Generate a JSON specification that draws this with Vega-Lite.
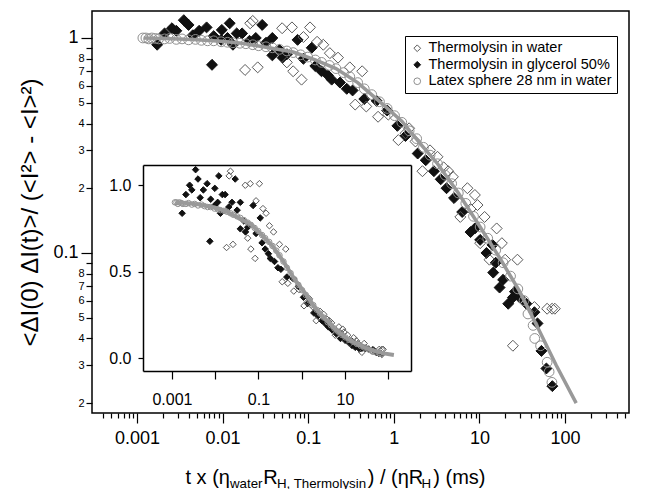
{
  "$schema": "https://vega.github.io/schema/vega-lite/v6.json",
  "width": 537,
  "height": 402,
  "autosize": "none",
  "padding": {"left": 92, "top": 11, "right": 21, "bottom": 76},
  "background": "white",
  "config": {
    "view": {"stroke": "black", "strokeWidth": 1.5},
    "font": "Liberation Sans",
    "axis": {"domain": false, "domainColor": "black", "domainWidth": 1.5, "grid": false, "tickColor": "black", "tickWidth": 1.2, "labelColor": "black", "titleColor": "black", "labelFont": "Liberation Sans", "titleFont": "Liberation Sans", "titleFontWeight": "normal", "labelOverlap": false, "labelFlush": false, "labelBound": false},
    "legend": {"labelFont": "Liberation Sans", "labelFontSize": 14.5, "labelColor": "black", "strokeColor": "black", "fillColor": "white", "padding": 5, "rowPadding": 1.5, "symbolSize": 45, "symbolStrokeWidth": 1, "labelLimit": 400}
  },
  "datasets": {
    "pts": [
      {"s": "Thermolysin in glycerol 50%", "x": 0.00172, "y": 0.93},
      {"s": "Thermolysin in glycerol 50%", "x": 0.0021, "y": 1.05},
      {"s": "Thermolysin in glycerol 50%", "x": 0.00256, "y": 1.11},
      {"s": "Thermolysin in glycerol 50%", "x": 0.00288, "y": 1.08},
      {"s": "Thermolysin in glycerol 50%", "x": 0.00352, "y": 1.21},
      {"s": "Thermolysin in glycerol 50%", "x": 0.004, "y": 1.15},
      {"s": "Thermolysin in glycerol 50%", "x": 0.00449, "y": 1.03},
      {"s": "Thermolysin in glycerol 50%", "x": 0.00532, "y": 1.08},
      {"s": "Thermolysin in glycerol 50%", "x": 0.0065, "y": 1.12},
      {"s": "Thermolysin in glycerol 50%", "x": 0.00752, "y": 0.75},
      {"s": "Thermolysin in glycerol 50%", "x": 0.00787, "y": 1.02},
      {"s": "Thermolysin in glycerol 50%", "x": 0.00962, "y": 0.98},
      {"s": "Thermolysin in glycerol 50%", "x": 0.00979, "y": 1.09},
      {"s": "Thermolysin in glycerol 50%", "x": 0.0114, "y": 1.0},
      {"s": "Thermolysin in glycerol 50%", "x": 0.0121, "y": 1.17},
      {"s": "Thermolysin in glycerol 50%", "x": 0.0132, "y": 0.93},
      {"s": "Thermolysin in glycerol 50%", "x": 0.0146, "y": 1.05},
      {"s": "Thermolysin in glycerol 50%", "x": 0.0169, "y": 1.05},
      {"s": "Thermolysin in glycerol 50%", "x": 0.0206, "y": 0.97},
      {"s": "Thermolysin in glycerol 50%", "x": 0.0244, "y": 1.0},
      {"s": "Thermolysin in glycerol 50%", "x": 0.029, "y": 1.15},
      {"s": "Thermolysin in glycerol 50%", "x": 0.0321, "y": 0.95},
      {"s": "Thermolysin in glycerol 50%", "x": 0.0381, "y": 1.0},
      {"s": "Thermolysin in glycerol 50%", "x": 0.0381, "y": 0.83},
      {"s": "Thermolysin in glycerol 50%", "x": 0.0461, "y": 0.88},
      {"s": "Thermolysin in glycerol 50%", "x": 0.0502, "y": 0.81},
      {"s": "Thermolysin in glycerol 50%", "x": 0.0563, "y": 0.84},
      {"s": "Thermolysin in glycerol 50%", "x": 0.0751, "y": 0.98},
      {"s": "Thermolysin in glycerol 50%", "x": 0.0879, "y": 0.8},
      {"s": "Thermolysin in glycerol 50%", "x": 0.11, "y": 0.9},
      {"s": "Thermolysin in glycerol 50%", "x": 0.121, "y": 0.74},
      {"s": "Thermolysin in glycerol 50%", "x": 0.143, "y": 0.7},
      {"s": "Thermolysin in glycerol 50%", "x": 0.17, "y": 0.67},
      {"s": "Thermolysin in glycerol 50%", "x": 0.188, "y": 0.64},
      {"s": "Thermolysin in glycerol 50%", "x": 0.235, "y": 0.62},
      {"s": "Thermolysin in glycerol 50%", "x": 0.282, "y": 0.58},
      {"s": "Thermolysin in glycerol 50%", "x": 0.33, "y": 0.57},
      {"s": "Thermolysin in glycerol 50%", "x": 0.452, "y": 0.52},
      {"s": "Thermolysin in glycerol 50%", "x": 0.629, "y": 0.51},
      {"s": "Thermolysin in glycerol 50%", "x": 0.836, "y": 0.46},
      {"s": "Thermolysin in glycerol 50%", "x": 1.1, "y": 0.39},
      {"s": "Thermolysin in glycerol 50%", "x": 1.37, "y": 0.35},
      {"s": "Thermolysin in glycerol 50%", "x": 1.9, "y": 0.29},
      {"s": "Thermolysin in glycerol 50%", "x": 2.36, "y": 0.27},
      {"s": "Thermolysin in glycerol 50%", "x": 2.94, "y": 0.24},
      {"s": "Thermolysin in glycerol 50%", "x": 3.53, "y": 0.22},
      {"s": "Thermolysin in glycerol 50%", "x": 4.13, "y": 0.2},
      {"s": "Thermolysin in glycerol 50%", "x": 5.05, "y": 0.18},
      {"s": "Thermolysin in glycerol 50%", "x": 6.29, "y": 0.155},
      {"s": "Thermolysin in glycerol 50%", "x": 7.88, "y": 0.125},
      {"s": "Thermolysin in glycerol 50%", "x": 8.85, "y": 0.13},
      {"s": "Thermolysin in glycerol 50%", "x": 10.2, "y": 0.115},
      {"s": "Thermolysin in glycerol 50%", "x": 12.1, "y": 0.1},
      {"s": "Thermolysin in glycerol 50%", "x": 14.2, "y": 0.109},
      {"s": "Thermolysin in glycerol 50%", "x": 14.5, "y": 0.081},
      {"s": "Thermolysin in glycerol 50%", "x": 15.5, "y": 0.09},
      {"s": "Thermolysin in glycerol 50%", "x": 17.2, "y": 0.069},
      {"s": "Thermolysin in glycerol 50%", "x": 18.9, "y": 0.075},
      {"s": "Thermolysin in glycerol 50%", "x": 21.7, "y": 0.058},
      {"s": "Thermolysin in glycerol 50%", "x": 24.6, "y": 0.062},
      {"s": "Thermolysin in glycerol 50%", "x": 26.0, "y": 0.066},
      {"s": "Thermolysin in glycerol 50%", "x": 29.6, "y": 0.062},
      {"s": "Thermolysin in glycerol 50%", "x": 35.4, "y": 0.058},
      {"s": "Thermolysin in glycerol 50%", "x": 43.9, "y": 0.053},
      {"s": "Thermolysin in glycerol 50%", "x": 47.7, "y": 0.047},
      {"s": "Thermolysin in glycerol 50%", "x": 53.0, "y": 0.035},
      {"s": "Thermolysin in glycerol 50%", "x": 60.6, "y": 0.029},
      {"s": "Thermolysin in glycerol 50%", "x": 71.1, "y": 0.024},
      {"s": "Thermolysin in water", "x": 0.0183, "y": 0.71},
      {"s": "Thermolysin in water", "x": 0.0257, "y": 0.73},
      {"s": "Thermolysin in water", "x": 0.021, "y": 1.17},
      {"s": "Thermolysin in water", "x": 0.0225, "y": 1.2},
      {"s": "Thermolysin in water", "x": 0.0496, "y": 1.11},
      {"s": "Thermolysin in water", "x": 0.0563, "y": 0.77},
      {"s": "Thermolysin in water", "x": 0.0646, "y": 1.12},
      {"s": "Thermolysin in water", "x": 0.0667, "y": 0.7},
      {"s": "Thermolysin in water", "x": 0.0836, "y": 0.64},
      {"s": "Thermolysin in water", "x": 0.0879, "y": 1.01},
      {"s": "Thermolysin in water", "x": 0.105, "y": 1.12},
      {"s": "Thermolysin in water", "x": 0.127, "y": 0.96},
      {"s": "Thermolysin in water", "x": 0.15, "y": 0.93},
      {"s": "Thermolysin in water", "x": 0.179, "y": 0.85},
      {"s": "Thermolysin in water", "x": 0.223, "y": 0.81},
      {"s": "Thermolysin in water", "x": 0.306, "y": 0.73},
      {"s": "Thermolysin in water", "x": 0.354, "y": 0.49},
      {"s": "Thermolysin in water", "x": 0.427, "y": 0.7},
      {"s": "Thermolysin in water", "x": 0.477, "y": 0.48},
      {"s": "Thermolysin in water", "x": 0.655, "y": 0.43},
      {"s": "Thermolysin in water", "x": 0.862, "y": 0.44},
      {"s": "Thermolysin in water", "x": 1.13, "y": 0.335},
      {"s": "Thermolysin in water", "x": 1.37, "y": 0.36},
      {"s": "Thermolysin in water", "x": 1.51, "y": 0.38},
      {"s": "Thermolysin in water", "x": 1.79, "y": 0.33},
      {"s": "Thermolysin in water", "x": 2.16, "y": 0.24},
      {"s": "Thermolysin in water", "x": 2.65, "y": 0.3},
      {"s": "Thermolysin in water", "x": 3.24, "y": 0.28},
      {"s": "Thermolysin in water", "x": 3.83, "y": 0.25},
      {"s": "Thermolysin in water", "x": 4.32, "y": 0.24},
      {"s": "Thermolysin in water", "x": 4.9, "y": 0.226},
      {"s": "Thermolysin in water", "x": 5.98, "y": 0.147},
      {"s": "Thermolysin in water", "x": 7.24, "y": 0.2},
      {"s": "Thermolysin in water", "x": 7.88, "y": 0.16},
      {"s": "Thermolysin in water", "x": 8.85, "y": 0.186},
      {"s": "Thermolysin in water", "x": 9.5, "y": 0.167},
      {"s": "Thermolysin in water", "x": 10.2, "y": 0.111},
      {"s": "Thermolysin in water", "x": 11.5, "y": 0.147},
      {"s": "Thermolysin in water", "x": 13.1, "y": 0.093},
      {"s": "Thermolysin in water", "x": 15.9, "y": 0.13},
      {"s": "Thermolysin in water", "x": 18.3, "y": 0.111},
      {"s": "Thermolysin in water", "x": 20.0, "y": 0.093},
      {"s": "Thermolysin in water", "x": 24.6, "y": 0.037},
      {"s": "Thermolysin in water", "x": 27.8, "y": 0.093},
      {"s": "Thermolysin in water", "x": 43.9, "y": 0.056},
      {"s": "Thermolysin in water", "x": 61.8, "y": 0.055},
      {"s": "Thermolysin in water", "x": 70.7, "y": 0.055},
      {"s": "Thermolysin in water", "x": 76.1, "y": 0.055},
      {"s": "Latex sphere 28 nm in water", "x": 0.00117, "y": 1.0},
      {"s": "Latex sphere 28 nm in water", "x": 0.00127, "y": 1.0},
      {"s": "Latex sphere 28 nm in water", "x": 0.00137, "y": 0.99},
      {"s": "Latex sphere 28 nm in water", "x": 0.00149, "y": 1.0},
      {"s": "Latex sphere 28 nm in water", "x": 0.00164, "y": 0.995},
      {"s": "Latex sphere 28 nm in water", "x": 0.00179, "y": 0.99},
      {"s": "Latex sphere 28 nm in water", "x": 0.0021, "y": 0.99},
      {"s": "Latex sphere 28 nm in water", "x": 0.00241, "y": 0.995},
      {"s": "Latex sphere 28 nm in water", "x": 0.00288, "y": 0.985},
      {"s": "Latex sphere 28 nm in water", "x": 0.00336, "y": 0.99},
      {"s": "Latex sphere 28 nm in water", "x": 0.004, "y": 0.98},
      {"s": "Latex sphere 28 nm in water", "x": 0.00482, "y": 0.985},
      {"s": "Latex sphere 28 nm in water", "x": 0.00566, "y": 0.975},
      {"s": "Latex sphere 28 nm in water", "x": 0.00667, "y": 0.97},
      {"s": "Latex sphere 28 nm in water", "x": 0.00787, "y": 0.97},
      {"s": "Latex sphere 28 nm in water", "x": 0.00962, "y": 0.96},
      {"s": "Latex sphere 28 nm in water", "x": 0.0114, "y": 0.955},
      {"s": "Latex sphere 28 nm in water", "x": 0.0132, "y": 0.95},
      {"s": "Latex sphere 28 nm in water", "x": 0.0159, "y": 0.945},
      {"s": "Latex sphere 28 nm in water", "x": 0.0187, "y": 0.94},
      {"s": "Latex sphere 28 nm in water", "x": 0.0225, "y": 0.93},
      {"s": "Latex sphere 28 nm in water", "x": 0.0263, "y": 0.92},
      {"s": "Latex sphere 28 nm in water", "x": 0.0321, "y": 0.91},
      {"s": "Latex sphere 28 nm in water", "x": 0.0381, "y": 0.9},
      {"s": "Latex sphere 28 nm in water", "x": 0.0461, "y": 0.885},
      {"s": "Latex sphere 28 nm in water", "x": 0.0563, "y": 0.87},
      {"s": "Latex sphere 28 nm in water", "x": 0.0667, "y": 0.855},
      {"s": "Latex sphere 28 nm in water", "x": 0.0815, "y": 0.835},
      {"s": "Latex sphere 28 nm in water", "x": 0.0987, "y": 0.815},
      {"s": "Latex sphere 28 nm in water", "x": 0.121, "y": 0.79},
      {"s": "Latex sphere 28 nm in water", "x": 0.143, "y": 0.77},
      {"s": "Latex sphere 28 nm in water", "x": 0.177, "y": 0.745},
      {"s": "Latex sphere 28 nm in water", "x": 0.211, "y": 0.72},
      {"s": "Latex sphere 28 nm in water", "x": 0.258, "y": 0.69},
      {"s": "Latex sphere 28 nm in water", "x": 0.306, "y": 0.66},
      {"s": "Latex sphere 28 nm in water", "x": 0.378, "y": 0.62},
      {"s": "Latex sphere 28 nm in water", "x": 0.452, "y": 0.58},
      {"s": "Latex sphere 28 nm in water", "x": 0.552, "y": 0.545},
      {"s": "Latex sphere 28 nm in water", "x": 0.68, "y": 0.505},
      {"s": "Latex sphere 28 nm in water", "x": 0.836, "y": 0.47},
      {"s": "Latex sphere 28 nm in water", "x": 1.02, "y": 0.435},
      {"s": "Latex sphere 28 nm in water", "x": 1.24, "y": 0.405},
      {"s": "Latex sphere 28 nm in water", "x": 1.51, "y": 0.37},
      {"s": "Latex sphere 28 nm in water", "x": 1.85, "y": 0.34},
      {"s": "Latex sphere 28 nm in water", "x": 2.22, "y": 0.31},
      {"s": "Latex sphere 28 nm in water", "x": 2.65, "y": 0.285},
      {"s": "Latex sphere 28 nm in water", "x": 3.24, "y": 0.26},
      {"s": "Latex sphere 28 nm in water", "x": 3.98, "y": 0.23},
      {"s": "Latex sphere 28 nm in water", "x": 4.74, "y": 0.21},
      {"s": "Latex sphere 28 nm in water", "x": 5.67, "y": 0.19},
      {"s": "Latex sphere 28 nm in water", "x": 6.93, "y": 0.17},
      {"s": "Latex sphere 28 nm in water", "x": 8.53, "y": 0.148},
      {"s": "Latex sphere 28 nm in water", "x": 10.2, "y": 0.132},
      {"s": "Latex sphere 28 nm in water", "x": 12.5, "y": 0.117},
      {"s": "Latex sphere 28 nm in water", "x": 15.5, "y": 0.103},
      {"s": "Latex sphere 28 nm in water", "x": 18.9, "y": 0.09},
      {"s": "Latex sphere 28 nm in water", "x": 23.1, "y": 0.078},
      {"s": "Latex sphere 28 nm in water", "x": 28.1, "y": 0.068},
      {"s": "Latex sphere 28 nm in water", "x": 33.2, "y": 0.06},
      {"s": "Latex sphere 28 nm in water", "x": 36.9, "y": 0.052},
      {"s": "Latex sphere 28 nm in water", "x": 42.4, "y": 0.046},
      {"s": "Latex sphere 28 nm in water", "x": 44.3, "y": 0.04},
      {"s": "Latex sphere 28 nm in water", "x": 51.8, "y": 0.037},
      {"s": "Latex sphere 28 nm in water", "x": 61.8, "y": 0.031},
      {"s": "Latex sphere 28 nm in water", "x": 65.2, "y": 0.028},
      {"s": "Latex sphere 28 nm in water", "x": 70.3, "y": 0.025}
    ],
    "fit": [
      {"x": 0.0012, "y": 1.0},
      {"x": 0.0021, "y": 0.995},
      {"x": 0.00449, "y": 0.985},
      {"x": 0.00962, "y": 0.965},
      {"x": 0.0169, "y": 0.945},
      {"x": 0.0321, "y": 0.905},
      {"x": 0.0667, "y": 0.86},
      {"x": 0.121, "y": 0.79},
      {"x": 0.211, "y": 0.72},
      {"x": 0.378, "y": 0.62},
      {"x": 0.706, "y": 0.5},
      {"x": 1.24, "y": 0.41},
      {"x": 2.07, "y": 0.32},
      {"x": 3.24, "y": 0.26},
      {"x": 5.67, "y": 0.19},
      {"x": 10.2, "y": 0.132},
      {"x": 17.2, "y": 0.095},
      {"x": 29.6, "y": 0.066},
      {"x": 48, "y": 0.045},
      {"x": 78.9, "y": 0.03},
      {"x": 135, "y": 0.02}
    ],
    "ins": [
      {"s": "Thermolysin in glycerol 50%", "x": 0.00172, "y": 0.837},
      {"s": "Thermolysin in glycerol 50%", "x": 0.0021, "y": 0.945},
      {"s": "Thermolysin in glycerol 50%", "x": 0.00256, "y": 0.999},
      {"s": "Thermolysin in glycerol 50%", "x": 0.00288, "y": 0.972},
      {"s": "Thermolysin in glycerol 50%", "x": 0.00352, "y": 1.089},
      {"s": "Thermolysin in glycerol 50%", "x": 0.004, "y": 1.035},
      {"s": "Thermolysin in glycerol 50%", "x": 0.00449, "y": 0.927},
      {"s": "Thermolysin in glycerol 50%", "x": 0.00532, "y": 0.972},
      {"s": "Thermolysin in glycerol 50%", "x": 0.0065, "y": 1.008},
      {"s": "Thermolysin in glycerol 50%", "x": 0.00752, "y": 0.675},
      {"s": "Thermolysin in glycerol 50%", "x": 0.00787, "y": 0.918},
      {"s": "Thermolysin in glycerol 50%", "x": 0.00962, "y": 0.882},
      {"s": "Thermolysin in glycerol 50%", "x": 0.00979, "y": 0.981},
      {"s": "Thermolysin in glycerol 50%", "x": 0.0114, "y": 0.9},
      {"s": "Thermolysin in glycerol 50%", "x": 0.0121, "y": 1.053},
      {"s": "Thermolysin in glycerol 50%", "x": 0.0132, "y": 0.837},
      {"s": "Thermolysin in glycerol 50%", "x": 0.0146, "y": 0.945},
      {"s": "Thermolysin in glycerol 50%", "x": 0.0169, "y": 0.945},
      {"s": "Thermolysin in glycerol 50%", "x": 0.0206, "y": 0.873},
      {"s": "Thermolysin in glycerol 50%", "x": 0.0244, "y": 0.9},
      {"s": "Thermolysin in glycerol 50%", "x": 0.029, "y": 1.035},
      {"s": "Thermolysin in glycerol 50%", "x": 0.0321, "y": 0.855},
      {"s": "Thermolysin in glycerol 50%", "x": 0.0381, "y": 0.9},
      {"s": "Thermolysin in glycerol 50%", "x": 0.0381, "y": 0.747},
      {"s": "Thermolysin in glycerol 50%", "x": 0.0461, "y": 0.792},
      {"s": "Thermolysin in glycerol 50%", "x": 0.0502, "y": 0.729},
      {"s": "Thermolysin in glycerol 50%", "x": 0.0563, "y": 0.756},
      {"s": "Thermolysin in glycerol 50%", "x": 0.0751, "y": 0.882},
      {"s": "Thermolysin in glycerol 50%", "x": 0.0879, "y": 0.72},
      {"s": "Thermolysin in glycerol 50%", "x": 0.11, "y": 0.81},
      {"s": "Thermolysin in glycerol 50%", "x": 0.121, "y": 0.666},
      {"s": "Thermolysin in glycerol 50%", "x": 0.143, "y": 0.63},
      {"s": "Thermolysin in glycerol 50%", "x": 0.17, "y": 0.603},
      {"s": "Thermolysin in glycerol 50%", "x": 0.188, "y": 0.576},
      {"s": "Thermolysin in glycerol 50%", "x": 0.235, "y": 0.558},
      {"s": "Thermolysin in glycerol 50%", "x": 0.282, "y": 0.522},
      {"s": "Thermolysin in glycerol 50%", "x": 0.33, "y": 0.513},
      {"s": "Thermolysin in glycerol 50%", "x": 0.452, "y": 0.468},
      {"s": "Thermolysin in glycerol 50%", "x": 0.629, "y": 0.459},
      {"s": "Thermolysin in glycerol 50%", "x": 0.836, "y": 0.414},
      {"s": "Thermolysin in glycerol 50%", "x": 1.1, "y": 0.351},
      {"s": "Thermolysin in glycerol 50%", "x": 1.37, "y": 0.315},
      {"s": "Thermolysin in glycerol 50%", "x": 1.9, "y": 0.261},
      {"s": "Thermolysin in glycerol 50%", "x": 2.36, "y": 0.243},
      {"s": "Thermolysin in glycerol 50%", "x": 2.94, "y": 0.216},
      {"s": "Thermolysin in glycerol 50%", "x": 3.53, "y": 0.198},
      {"s": "Thermolysin in glycerol 50%", "x": 4.13, "y": 0.18},
      {"s": "Thermolysin in glycerol 50%", "x": 5.05, "y": 0.162},
      {"s": "Thermolysin in glycerol 50%", "x": 6.29, "y": 0.14},
      {"s": "Thermolysin in glycerol 50%", "x": 7.88, "y": 0.113},
      {"s": "Thermolysin in glycerol 50%", "x": 8.85, "y": 0.117},
      {"s": "Thermolysin in glycerol 50%", "x": 10.2, "y": 0.104},
      {"s": "Thermolysin in glycerol 50%", "x": 12.1, "y": 0.09},
      {"s": "Thermolysin in glycerol 50%", "x": 14.2, "y": 0.098},
      {"s": "Thermolysin in glycerol 50%", "x": 14.5, "y": 0.073},
      {"s": "Thermolysin in glycerol 50%", "x": 15.5, "y": 0.081},
      {"s": "Thermolysin in glycerol 50%", "x": 17.2, "y": 0.062},
      {"s": "Thermolysin in glycerol 50%", "x": 18.9, "y": 0.068},
      {"s": "Thermolysin in glycerol 50%", "x": 21.7, "y": 0.052},
      {"s": "Thermolysin in glycerol 50%", "x": 24.6, "y": 0.056},
      {"s": "Thermolysin in glycerol 50%", "x": 26.0, "y": 0.059},
      {"s": "Thermolysin in glycerol 50%", "x": 29.6, "y": 0.056},
      {"s": "Thermolysin in glycerol 50%", "x": 35.4, "y": 0.052},
      {"s": "Thermolysin in glycerol 50%", "x": 43.9, "y": 0.048},
      {"s": "Thermolysin in glycerol 50%", "x": 47.7, "y": 0.042},
      {"s": "Thermolysin in glycerol 50%", "x": 53.0, "y": 0.032},
      {"s": "Thermolysin in glycerol 50%", "x": 60.6, "y": 0.026},
      {"s": "Thermolysin in glycerol 50%", "x": 71.1, "y": 0.022},
      {"s": "Thermolysin in water", "x": 0.0183, "y": 0.639},
      {"s": "Thermolysin in water", "x": 0.0257, "y": 0.657},
      {"s": "Thermolysin in water", "x": 0.021, "y": 1.053},
      {"s": "Thermolysin in water", "x": 0.0225, "y": 1.08},
      {"s": "Thermolysin in water", "x": 0.0496, "y": 0.999},
      {"s": "Thermolysin in water", "x": 0.0563, "y": 0.693},
      {"s": "Thermolysin in water", "x": 0.0646, "y": 1.008},
      {"s": "Thermolysin in water", "x": 0.0667, "y": 0.63},
      {"s": "Thermolysin in water", "x": 0.0836, "y": 0.576},
      {"s": "Thermolysin in water", "x": 0.0879, "y": 0.909},
      {"s": "Thermolysin in water", "x": 0.105, "y": 1.008},
      {"s": "Thermolysin in water", "x": 0.127, "y": 0.864},
      {"s": "Thermolysin in water", "x": 0.15, "y": 0.837},
      {"s": "Thermolysin in water", "x": 0.179, "y": 0.765},
      {"s": "Thermolysin in water", "x": 0.223, "y": 0.729},
      {"s": "Thermolysin in water", "x": 0.306, "y": 0.657},
      {"s": "Thermolysin in water", "x": 0.354, "y": 0.441},
      {"s": "Thermolysin in water", "x": 0.427, "y": 0.63},
      {"s": "Thermolysin in water", "x": 0.477, "y": 0.432},
      {"s": "Thermolysin in water", "x": 0.655, "y": 0.387},
      {"s": "Thermolysin in water", "x": 0.862, "y": 0.396},
      {"s": "Thermolysin in water", "x": 1.13, "y": 0.302},
      {"s": "Thermolysin in water", "x": 1.37, "y": 0.324},
      {"s": "Thermolysin in water", "x": 1.51, "y": 0.342},
      {"s": "Thermolysin in water", "x": 1.79, "y": 0.297},
      {"s": "Thermolysin in water", "x": 2.16, "y": 0.216},
      {"s": "Thermolysin in water", "x": 2.65, "y": 0.27},
      {"s": "Thermolysin in water", "x": 3.24, "y": 0.252},
      {"s": "Thermolysin in water", "x": 3.83, "y": 0.225},
      {"s": "Thermolysin in water", "x": 4.32, "y": 0.216},
      {"s": "Thermolysin in water", "x": 4.9, "y": 0.203},
      {"s": "Thermolysin in water", "x": 5.98, "y": 0.132},
      {"s": "Thermolysin in water", "x": 7.24, "y": 0.18},
      {"s": "Thermolysin in water", "x": 7.88, "y": 0.144},
      {"s": "Thermolysin in water", "x": 8.85, "y": 0.167},
      {"s": "Thermolysin in water", "x": 9.5, "y": 0.15},
      {"s": "Thermolysin in water", "x": 10.2, "y": 0.1},
      {"s": "Thermolysin in water", "x": 11.5, "y": 0.132},
      {"s": "Thermolysin in water", "x": 13.1, "y": 0.084},
      {"s": "Thermolysin in water", "x": 15.9, "y": 0.117},
      {"s": "Thermolysin in water", "x": 18.3, "y": 0.1},
      {"s": "Thermolysin in water", "x": 20.0, "y": 0.084},
      {"s": "Thermolysin in water", "x": 24.6, "y": 0.033},
      {"s": "Thermolysin in water", "x": 27.8, "y": 0.084},
      {"s": "Thermolysin in water", "x": 43.9, "y": 0.05},
      {"s": "Thermolysin in water", "x": 61.8, "y": 0.05},
      {"s": "Thermolysin in water", "x": 70.7, "y": 0.05},
      {"s": "Thermolysin in water", "x": 76.1, "y": 0.05},
      {"s": "Latex sphere 28 nm in water", "x": 0.00117, "y": 0.9},
      {"s": "Latex sphere 28 nm in water", "x": 0.00127, "y": 0.9},
      {"s": "Latex sphere 28 nm in water", "x": 0.00137, "y": 0.891},
      {"s": "Latex sphere 28 nm in water", "x": 0.00149, "y": 0.9},
      {"s": "Latex sphere 28 nm in water", "x": 0.00164, "y": 0.896},
      {"s": "Latex sphere 28 nm in water", "x": 0.00179, "y": 0.891},
      {"s": "Latex sphere 28 nm in water", "x": 0.0021, "y": 0.891},
      {"s": "Latex sphere 28 nm in water", "x": 0.00241, "y": 0.896},
      {"s": "Latex sphere 28 nm in water", "x": 0.00288, "y": 0.887},
      {"s": "Latex sphere 28 nm in water", "x": 0.00336, "y": 0.891},
      {"s": "Latex sphere 28 nm in water", "x": 0.004, "y": 0.882},
      {"s": "Latex sphere 28 nm in water", "x": 0.00482, "y": 0.887},
      {"s": "Latex sphere 28 nm in water", "x": 0.00566, "y": 0.878},
      {"s": "Latex sphere 28 nm in water", "x": 0.00667, "y": 0.873},
      {"s": "Latex sphere 28 nm in water", "x": 0.00787, "y": 0.873},
      {"s": "Latex sphere 28 nm in water", "x": 0.00962, "y": 0.864},
      {"s": "Latex sphere 28 nm in water", "x": 0.0114, "y": 0.86},
      {"s": "Latex sphere 28 nm in water", "x": 0.0132, "y": 0.855},
      {"s": "Latex sphere 28 nm in water", "x": 0.0159, "y": 0.851},
      {"s": "Latex sphere 28 nm in water", "x": 0.0187, "y": 0.846},
      {"s": "Latex sphere 28 nm in water", "x": 0.0225, "y": 0.837},
      {"s": "Latex sphere 28 nm in water", "x": 0.0263, "y": 0.828},
      {"s": "Latex sphere 28 nm in water", "x": 0.0321, "y": 0.819},
      {"s": "Latex sphere 28 nm in water", "x": 0.0381, "y": 0.81},
      {"s": "Latex sphere 28 nm in water", "x": 0.0461, "y": 0.797},
      {"s": "Latex sphere 28 nm in water", "x": 0.0563, "y": 0.783},
      {"s": "Latex sphere 28 nm in water", "x": 0.0667, "y": 0.77},
      {"s": "Latex sphere 28 nm in water", "x": 0.0815, "y": 0.752},
      {"s": "Latex sphere 28 nm in water", "x": 0.0987, "y": 0.734},
      {"s": "Latex sphere 28 nm in water", "x": 0.121, "y": 0.711},
      {"s": "Latex sphere 28 nm in water", "x": 0.143, "y": 0.693},
      {"s": "Latex sphere 28 nm in water", "x": 0.177, "y": 0.671},
      {"s": "Latex sphere 28 nm in water", "x": 0.211, "y": 0.648},
      {"s": "Latex sphere 28 nm in water", "x": 0.258, "y": 0.621},
      {"s": "Latex sphere 28 nm in water", "x": 0.306, "y": 0.594},
      {"s": "Latex sphere 28 nm in water", "x": 0.378, "y": 0.558},
      {"s": "Latex sphere 28 nm in water", "x": 0.452, "y": 0.522},
      {"s": "Latex sphere 28 nm in water", "x": 0.552, "y": 0.491},
      {"s": "Latex sphere 28 nm in water", "x": 0.68, "y": 0.455},
      {"s": "Latex sphere 28 nm in water", "x": 0.836, "y": 0.423},
      {"s": "Latex sphere 28 nm in water", "x": 1.02, "y": 0.392},
      {"s": "Latex sphere 28 nm in water", "x": 1.24, "y": 0.365},
      {"s": "Latex sphere 28 nm in water", "x": 1.51, "y": 0.333},
      {"s": "Latex sphere 28 nm in water", "x": 1.85, "y": 0.306},
      {"s": "Latex sphere 28 nm in water", "x": 2.22, "y": 0.279},
      {"s": "Latex sphere 28 nm in water", "x": 2.65, "y": 0.257},
      {"s": "Latex sphere 28 nm in water", "x": 3.24, "y": 0.234},
      {"s": "Latex sphere 28 nm in water", "x": 3.98, "y": 0.207},
      {"s": "Latex sphere 28 nm in water", "x": 4.74, "y": 0.189},
      {"s": "Latex sphere 28 nm in water", "x": 5.67, "y": 0.171},
      {"s": "Latex sphere 28 nm in water", "x": 6.93, "y": 0.153},
      {"s": "Latex sphere 28 nm in water", "x": 8.53, "y": 0.133},
      {"s": "Latex sphere 28 nm in water", "x": 10.2, "y": 0.119},
      {"s": "Latex sphere 28 nm in water", "x": 12.5, "y": 0.105},
      {"s": "Latex sphere 28 nm in water", "x": 15.5, "y": 0.093},
      {"s": "Latex sphere 28 nm in water", "x": 18.9, "y": 0.081},
      {"s": "Latex sphere 28 nm in water", "x": 23.1, "y": 0.07},
      {"s": "Latex sphere 28 nm in water", "x": 28.1, "y": 0.061},
      {"s": "Latex sphere 28 nm in water", "x": 33.2, "y": 0.054},
      {"s": "Latex sphere 28 nm in water", "x": 36.9, "y": 0.047},
      {"s": "Latex sphere 28 nm in water", "x": 42.4, "y": 0.041},
      {"s": "Latex sphere 28 nm in water", "x": 44.3, "y": 0.036},
      {"s": "Latex sphere 28 nm in water", "x": 51.8, "y": 0.033},
      {"s": "Latex sphere 28 nm in water", "x": 61.8, "y": 0.028},
      {"s": "Latex sphere 28 nm in water", "x": 65.2, "y": 0.025},
      {"s": "Latex sphere 28 nm in water", "x": 70.3, "y": 0.023}
    ],
    "insfit": [
      {"x": 0.0012, "y": 0.9},
      {"x": 0.0021, "y": 0.896},
      {"x": 0.00449, "y": 0.887},
      {"x": 0.00962, "y": 0.869},
      {"x": 0.0169, "y": 0.851},
      {"x": 0.0321, "y": 0.815},
      {"x": 0.0667, "y": 0.774},
      {"x": 0.121, "y": 0.711},
      {"x": 0.211, "y": 0.648},
      {"x": 0.378, "y": 0.558},
      {"x": 0.706, "y": 0.45},
      {"x": 1.24, "y": 0.369},
      {"x": 2.07, "y": 0.288},
      {"x": 3.24, "y": 0.234},
      {"x": 5.67, "y": 0.171},
      {"x": 10.2, "y": 0.119},
      {"x": 17.2, "y": 0.086},
      {"x": 29.6, "y": 0.059},
      {"x": 48, "y": 0.041},
      {"x": 78.9, "y": 0.027},
      {"x": 135, "y": 0.018}
    ]
  },
  "resolve": {"scale": {"x": "independent", "y": "independent"}},
  "layer": [
    {
      "encoding": {
        "x": {"field": "x", "type": "quantitative", "scale": {"type": "log", "domain": [0.000298, 559], "nice": false},
          "axis": {"orient": "bottom", "values": [0.001, 0.01, 0.1, 1, 10, 100], "format": "~g", "tickSize": 10, "labelFontSize": 18, "labelPadding": 6,
            "title": "t x (\u03b7\u2003\u2002\u2006R\u2003\u2003\u2003\u2003\u2002) / (\u03b7R\u2002) (ms)", "titleFontSize": 20, "titleAlign": "left", "titleBaseline": "alphabetic", "titleX": 93, "titleY": 70}},
        "y": {"field": "y", "type": "quantitative", "scale": {"type": "log", "domain": [0.018, 1.335], "nice": false},
          "axis": {"orient": "left", "values": [0.1, 1], "format": "~g", "tickSize": 11, "labelFontSize": 18, "labelPadding": 3,
            "title": "<\u0394I(0) \u0394I(t)>/ (<I\u00b2> - <I>\u00b2)", "titleFontSize": 24, "titleAngle": 270, "titleAlign": "center", "titleBaseline": "middle", "titleX": -62, "titleY": 201}}
      },
      "layer": [
        {
          "data": {"name": "pts"},
          "transform": [{"filter": "datum.s != 'Latex sphere 28 nm in water'"}],
          "mark": {"type": "point", "filled": true, "size": 120, "strokeWidth": 1, "opacity": 1, "clip": true},
          "encoding": {
            "shape": {"field": "s", "type": "nominal", "title": null, "scale": {"domain": ["Thermolysin in water", "Thermolysin in glycerol 50%", "Latex sphere 28 nm in water"], "range": ["diamond", "diamond", "circle"]}, "legend": {"orient": "none", "legendX": 313, "legendY": 25}},
            "fill": {"field": "s", "type": "nominal", "title": null, "scale": {"domain": ["Thermolysin in water", "Thermolysin in glycerol 50%", "Latex sphere 28 nm in water"], "range": ["transparent", "#111111", "transparent"]}, "legend": {"orient": "none", "legendX": 313, "legendY": 25}},
            "stroke": {"field": "s", "type": "nominal", "title": null, "scale": {"domain": ["Thermolysin in water", "Thermolysin in glycerol 50%", "Latex sphere 28 nm in water"], "range": ["#5a5a5a", "#111111", "#8f8f8f"]}, "legend": {"orient": "none", "legendX": 313, "legendY": 25}}
          }
        },
        {
          "data": {"name": "pts"},
          "transform": [{"filter": "datum.s == 'Latex sphere 28 nm in water'"}],
          "mark": {"type": "point", "filled": true, "size": 95, "strokeWidth": 1, "opacity": 1, "clip": true},
          "encoding": {
            "shape": {"field": "s", "type": "nominal", "title": null, "scale": {"domain": ["Thermolysin in water", "Thermolysin in glycerol 50%", "Latex sphere 28 nm in water"], "range": ["diamond", "diamond", "circle"]}, "legend": {"orient": "none", "legendX": 313, "legendY": 25}},
            "fill": {"field": "s", "type": "nominal", "title": null, "scale": {"domain": ["Thermolysin in water", "Thermolysin in glycerol 50%", "Latex sphere 28 nm in water"], "range": ["transparent", "#111111", "transparent"]}, "legend": {"orient": "none", "legendX": 313, "legendY": 25}},
            "stroke": {"field": "s", "type": "nominal", "title": null, "scale": {"domain": ["Thermolysin in water", "Thermolysin in glycerol 50%", "Latex sphere 28 nm in water"], "range": ["#5a5a5a", "#111111", "#8f8f8f"]}, "legend": {"orient": "none", "legendX": 313, "legendY": 25}}
          }
        },
        {
          "data": {"name": "fit"},
          "mark": {"type": "line", "color": "#999999", "strokeWidth": 3.5, "clip": true},
          "encoding": {}
        }
      ]
    },
    {
      "encoding": {
        "x": {"field": "x", "type": "quantitative", "scale": {"type": "log", "domain": [0.000214, 336], "range": [51, 319], "nice": false},
          "axis": {"orient": "bottom", "offset": -42, "domain": true, "values": [0.001, 0.01, 0.1, 1, 10, 100], "format": "~g", "labelExpr": "datum.value == 0.001 || datum.value == 0.1 || datum.value == 10 ? datum.label : ''", "tickSize": 8, "labelFontSize": 16, "labelPadding": 12, "title": null}},
        "y": {"field": "y", "type": "quantitative", "scale": {"type": "linear", "domain": [-0.075, 1.116], "range": [360, 154], "nice": false, "zero": false},
          "axis": {"orient": "left", "offset": -51, "domain": true, "values": [0, 0.5, 1], "format": ".1f", "tickSize": 5, "labelFontSize": 16, "labelPadding": 7, "title": null}}
      },
      "layer": [
        {
          "data": {"name": "ins"},
          "transform": [{"filter": "datum.s != 'Latex sphere 28 nm in water'"}],
          "mark": {"type": "point", "filled": true, "size": 42, "strokeWidth": 1, "opacity": 1, "clip": true},
          "encoding": {
            "shape": {"field": "s", "type": "nominal", "title": null, "scale": {"domain": ["Thermolysin in water", "Thermolysin in glycerol 50%", "Latex sphere 28 nm in water"], "range": ["diamond", "diamond", "circle"]}, "legend": {"orient": "none", "legendX": 313, "legendY": 25}},
            "fill": {"field": "s", "type": "nominal", "title": null, "scale": {"domain": ["Thermolysin in water", "Thermolysin in glycerol 50%", "Latex sphere 28 nm in water"], "range": ["transparent", "#111111", "transparent"]}, "legend": {"orient": "none", "legendX": 313, "legendY": 25}},
            "stroke": {"field": "s", "type": "nominal", "title": null, "scale": {"domain": ["Thermolysin in water", "Thermolysin in glycerol 50%", "Latex sphere 28 nm in water"], "range": ["#5a5a5a", "#111111", "#8f8f8f"]}, "legend": {"orient": "none", "legendX": 313, "legendY": 25}}
          }
        },
        {
          "data": {"name": "ins"},
          "transform": [{"filter": "datum.s == 'Latex sphere 28 nm in water'"}],
          "mark": {"type": "point", "filled": true, "size": 30, "strokeWidth": 1, "opacity": 1, "clip": true},
          "encoding": {
            "shape": {"field": "s", "type": "nominal", "title": null, "scale": {"domain": ["Thermolysin in water", "Thermolysin in glycerol 50%", "Latex sphere 28 nm in water"], "range": ["diamond", "diamond", "circle"]}, "legend": {"orient": "none", "legendX": 313, "legendY": 25}},
            "fill": {"field": "s", "type": "nominal", "title": null, "scale": {"domain": ["Thermolysin in water", "Thermolysin in glycerol 50%", "Latex sphere 28 nm in water"], "range": ["transparent", "#111111", "transparent"]}, "legend": {"orient": "none", "legendX": 313, "legendY": 25}},
            "stroke": {"field": "s", "type": "nominal", "title": null, "scale": {"domain": ["Thermolysin in water", "Thermolysin in glycerol 50%", "Latex sphere 28 nm in water"], "range": ["#5a5a5a", "#111111", "#8f8f8f"]}, "legend": {"orient": "none", "legendX": 313, "legendY": 25}}
          }
        },
        {
          "data": {"name": "insfit"},
          "mark": {"type": "line", "color": "#999999", "strokeWidth": 4, "clip": true},
          "encoding": {}
        }
      ]
    },
    {
      "data": {"values": [{}]},
      "mark": {"type": "point", "opacity": 0, "size": 1},
      "encoding": {
        "x": {"datum": 1, "type": "quantitative", "scale": {"type": "log", "domain": [0.000298, 559], "nice": false},
          "axis": {"orient": "bottom", "values": [0.0004, 0.0005, 0.0006, 0.0007, 0.0008, 0.0009, 0.002, 0.003, 0.004, 0.005, 0.006, 0.007, 0.008, 0.009, 0.02, 0.03, 0.04, 0.05, 0.06, 0.07, 0.08, 0.09, 0.2, 0.3, 0.4, 0.5, 0.6, 0.7, 0.8, 0.9, 2, 3, 4, 5, 6, 7, 8, 9, 20, 30, 40, 50, 60, 70, 80, 90, 200, 300, 400, 500], "labels": false, "tickSize": 5,
            "title": "water\u2003\u200aH, Thermolysin\u2003\u2003\u2003\u2003\u2006H", "titleFontSize": 13.3, "titleAlign": "left", "titleBaseline": "alphabetic", "titleX": 137.5, "titleY": 74}},
        "y": {"datum": 1, "type": "quantitative", "scale": {"type": "log", "domain": [0.018, 1.335], "nice": false},
          "axis": {"orient": "left", "values": [0.02, 0.03, 0.04, 0.05, 0.06, 0.07, 0.08, 0.09, 0.2, 0.3, 0.4, 0.5, 0.6, 0.7, 0.8, 0.9], "tickSize": 6, "labelFontSize": 11, "labelPadding": 2, "labelExpr": "(datum.value < 0.1 ? round(datum.value*100) : round(datum.value*10)) == 9 ? '' : '' + (datum.value < 0.1 ? round(datum.value*100) : round(datum.value*10))", "title": null}}
      }
    },
    {
      "data": {"values": [{}]},
      "mark": {"type": "point", "opacity": 0, "size": 1},
      "encoding": {
        "x": {"datum": 1, "type": "quantitative", "scale": {"type": "log", "domain": [0.000214, 336], "range": [51, 319], "nice": false},
          "axis": {"orient": "top", "offset": -154, "domain": true, "ticks": false, "labels": false, "title": null}},
        "y": {"datum": 0.5, "type": "quantitative", "scale": {"type": "linear", "domain": [-0.075, 1.116], "range": [360, 154], "nice": false, "zero": false},
          "axis": {"orient": "right", "offset": -218, "domain": true, "ticks": false, "labels": false, "title": null}}
      }
    }
  ]
}
